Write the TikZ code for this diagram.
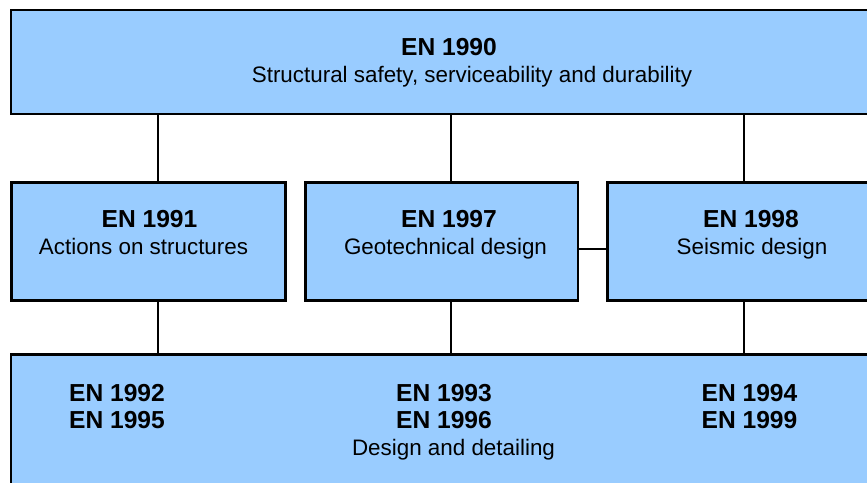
\documentclass[tikz,border=0pt]{standalone}
\usepackage{fontspec}
\setmainfont{Liberation Sans}
\usepackage{xcolor}
\usetikzlibrary{positioning}
\definecolor{enblue}{HTML}{99CCFF}

\begin{document}
\begin{tikzpicture}[
      x=1pt, y=-1pt,
      en_block/.style={rectangle, draw=black, fill=enblue, line width=2.5pt, inner sep=0pt, outer sep=0pt},
      code_text/.style={anchor=base, inner sep=0pt, font=\fontsize{24.6}{29}\selectfont\bfseries},
      title_text/.style={anchor=base, inner sep=0pt, font=\fontsize{22.4}{27}\selectfont},
      line/.style={draw, line width=2pt}
  ]
  \clip (0,0) rectangle (867,482);

  \node [en_block, minimum width=889pt, minimum height=104pt] (en1990) at (455.5,62) {};
  \node [en_block, minimum width=274pt, minimum height=118pt] (en1991) at (148.5,241.5) {};
  \node [en_block, minimum width=272.5pt, minimum height=118pt] (en1997) at (441.75,241.5) {};
  \node [en_block, minimum width=292.5pt, minimum height=118pt] (en1998) at (753.75,241.5) {};
  \node [en_block, minimum width=889pt, minimum height=185.5pt] (design) at (455.5,447.25) {};

  \node [code_text] (t1990) at (449,55) {EN 1990};
  \node [title_text] (s1990) at (472,82) {Structural safety, serviceability and durability};
  \node [code_text] (t1991) at (149.5,227) {EN 1991};
  \node [title_text] (s1991) at (143.5,254) {Actions on structures};
  \node [code_text] (t1997) at (449,227) {EN 1997};
  \node [title_text] (s1997) at (445.5,254) {Geotechnical design};
  \node [code_text] (t1998) at (751,227) {EN 1998};
  \node [title_text] (s1998) at (752,254) {Seismic design};
  \node [code_text] (t1992) at (117,401) {EN 1992};
  \node [code_text] (t1995) at (117,428.5) {EN 1995};
  \node [code_text] (t1993) at (444,401) {EN 1993};
  \node [code_text] (t1996) at (444,428.5) {EN 1996};
  \node [title_text] (sdesign) at (453.5,455) {Design and detailing};
  \node [code_text] (t1994) at (749.5,401) {EN 1994};
  \node [code_text] (t1999) at (749.5,428.5) {EN 1999};

  \coordinate (c1) at (158,0);
  \coordinate (c2) at (451,0);
  \coordinate (c3) at (744,0);

  \path [line] (c1 |- en1990.south) -- (c1 |- en1991.north);
  \path [line] (c2 |- en1990.south) -- (c2 |- en1997.north);
  \path [line] (c3 |- en1990.south) -- (c3 |- en1998.north);
  \path [line] (c1 |- en1991.south) -- (c1 |- design.north);
  \path [line] (c2 |- en1997.south) -- (c2 |- design.north);
  \path [line] (c3 |- en1998.south) -- (c3 |- design.north);
  \path [line] ([yshift=-7.5pt]en1997.east) -- ([yshift=-7.5pt]en1998.west);

\end{tikzpicture}
\end{document}
